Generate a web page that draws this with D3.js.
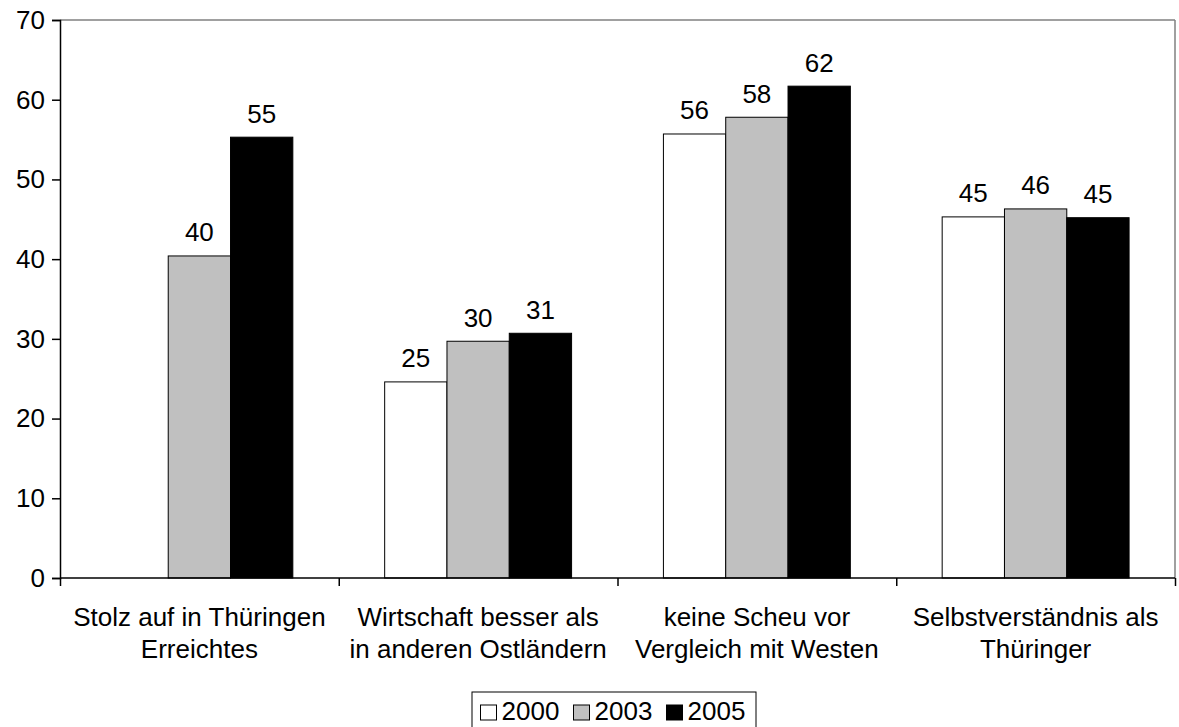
<!DOCTYPE html>
<html>
<head>
<meta charset="utf-8">
<script src="https://cdn.jsdelivr.net/npm/d3@7"></script>
<style>
  body { margin: 0; background: #fff; }
  text { font-family: "Liberation Sans", Arial, sans-serif; fill: #000; }
</style>
</head>
<body>
<svg width="1179" height="727"></svg>
<script>
// data
var categories = [
  ["Stolz auf in Thüringen", "Erreichtes"],
  ["Wirtschaft besser als", "in anderen Ostländern"],
  ["keine Scheu vor", "Vergleich mit Westen"],
  ["Selbstverständnis als", "Thüringer"]
];
var years = ["2000", "2003", "2005"];
var values2000 = [null, 24.6, 55.7, 45.3];
var values2003 = [40.4, 29.7, 57.8, 46.3];
var values2005 = [55.3, 30.7, 61.7, 45.2];
var yTicks = [0, 10, 20, 30, 40, 50, 60, 70];
var colors = ["#ffffff", "#c0c0c0", "#000000"];

var series = [values2000, values2003, values2005];

var svg = d3.select("svg");
var plotLeft = 60, plotRight = 1175, plotTop = 20, plotBottom = 578;

var y = d3.scaleLinear().domain([0, 70]).range([plotBottom, plotTop]);

var x0 = d3.scaleBand()
    .domain(d3.range(categories.length))
    .range([plotLeft, plotRight])
    .padding(0);

var x1 = d3.scaleBand()
    .domain(years)
    .range([0, x0.bandwidth()])
    .paddingInner(0)
    .paddingOuter(0.737);

// plot border (grey top and right)
svg.append("line")
    .attr("x1", plotLeft).attr("x2", plotRight).attr("y1", plotTop).attr("y2", plotTop)
    .attr("stroke", "#808080").attr("stroke-width", 1.5);
svg.append("line")
    .attr("x1", plotRight).attr("x2", plotRight).attr("y1", plotTop).attr("y2", plotBottom)
    .attr("stroke", "#808080").attr("stroke-width", 1.5);

// bars
var bars = [];
series.forEach(function (vals, s) {
    vals.forEach(function (v, c) {
        if (v != null) bars.push({ cat: c, year: years[s], color: colors[s], value: v });
    });
});

svg.append("g").selectAll("rect")
    .data(bars).enter()
    .append("rect")
    .attr("x", function (d) { return x0(d.cat) + x1(d.year); })
    .attr("y", function (d) { return y(d.value); })
    .attr("width", x1.bandwidth())
    .attr("height", function (d) { return y(0) - y(d.value); })
    .attr("fill", function (d) { return d.color; })
    .attr("stroke", "#000")
    .attr("stroke-width", 1);

// value labels
svg.append("g").selectAll("text")
    .data(bars).enter()
    .append("text")
    .attr("x", function (d) { return x0(d.cat) + x1(d.year) + x1.bandwidth() / 2; })
    .attr("y", function (d) { return y(d.value) - 14.5; })
    .attr("text-anchor", "middle")
    .style("font-size", "26px")
    .text(function (d) { return Math.round(d.value); });

// y axis
var yAxis = svg.append("g")
    .attr("transform", "translate(" + plotLeft + ",0)")
    .call(d3.axisLeft(y).tickValues(yTicks).tickSize(8).tickPadding(7));
yAxis.select(".domain").attr("stroke", "#000").attr("stroke-width", 1.5);
yAxis.selectAll(".tick line").attr("stroke", "#000").attr("stroke-width", 1.5);
yAxis.selectAll(".tick text")
    .style("font-size", "26px")
    .style("font-family", "Liberation Sans, Arial, sans-serif");

// x axis with ticks on category boundaries
var xEdge = d3.scaleLinear().domain([0, categories.length]).range([plotLeft, plotRight]);
var xAxis = svg.append("g")
    .attr("transform", "translate(0," + plotBottom + ")")
    .call(d3.axisBottom(xEdge).tickValues(d3.range(categories.length + 1))
        .tickSize(8).tickFormat(""));
xAxis.select(".domain").attr("stroke", "#000").attr("stroke-width", 1.5)
    .attr("d", "M" + plotLeft + ",0H" + plotRight);
xAxis.selectAll(".tick line").attr("stroke", "#000").attr("stroke-width", 1.5);

// category labels
var catText = svg.append("g").selectAll("text")
    .data(categories).enter()
    .append("text")
    .attr("text-anchor", "middle")
    .style("font-size", "26px");
catText.each(function (lines, i) {
    var t = d3.select(this);
    lines.forEach(function (line, j) {
        t.append("tspan")
            .attr("x", x0(i) + x0.bandwidth() / 2)
            .attr("y", 626 + j * 32)
            .text(line);
    });
});

// legend
var legend = svg.append("g").attr("transform", "translate(472,692)");
legend.append("rect")
    .attr("width", 284).attr("height", 40)
    .attr("fill", "#fff").attr("stroke", "#000").attr("stroke-width", 1);
var items = legend.selectAll("g.item")
    .data(years).enter()
    .append("g").attr("class", "item")
    .attr("transform", function (d, i) { return "translate(" + (8.5 + i * 93) + ",0)"; });
items.append("rect")
    .attr("y", 13).attr("width", 16).attr("height", 15)
    .attr("fill", function (d, i) { return colors[i]; })
    .attr("stroke", "#000").attr("stroke-width", 1);
items.append("text")
    .attr("x", 21).attr("y", 28)
    .style("font-size", "26px")
    .text(function (d) { return d; });
</script>
</body>
</html>
